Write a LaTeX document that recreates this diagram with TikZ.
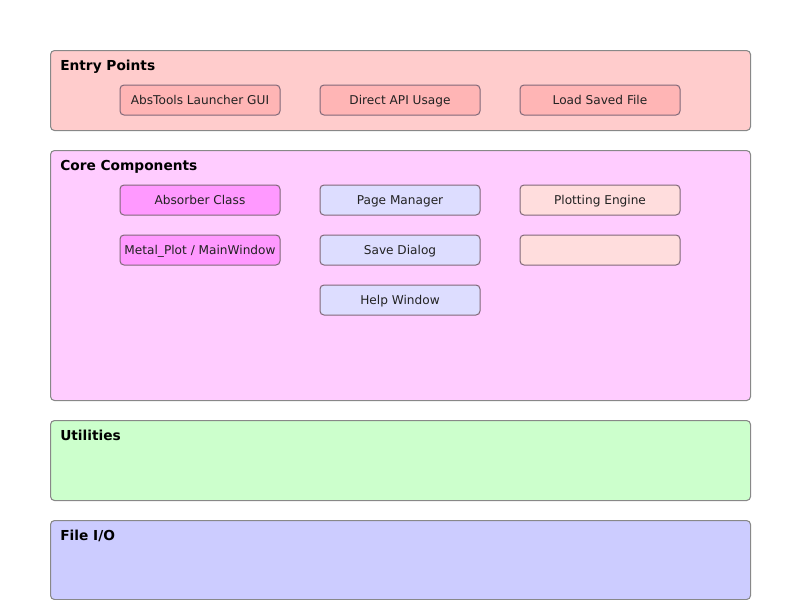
\documentclass[tikz,border=0pt]{standalone}
\usepackage{fontspec}
\setmainfont{DejaVu Sans}
\usetikzlibrary{positioning}
\definecolor{entryBg}{HTML}{FFCCCC}
\definecolor{entryNode}{HTML}{FFB5B5}
\definecolor{coreBg}{HTML}{FFCCFF}
\definecolor{absNode}{HTML}{FF99FF}
\definecolor{pageNode}{HTML}{DDDDFF}
\definecolor{plotNode}{HTML}{FFDDDD}
\definecolor{utilBg}{HTML}{CCFFCC}
\definecolor{fileBg}{HTML}{CCCCFF}
\definecolor{nodeLine}{HTML}{806878}
\definecolor{groupLine}{HTML}{888888}
\definecolor{nodeText}{HTML}{222222}

\begin{document}
\begin{tikzpicture}[
    x=0.75pt, y=-0.75pt,
    every node/.style={font=\fontsize{9.1pt}{11pt}\selectfont},
    group_box/.style={rectangle, rounded corners=3pt, draw=groupLine, line width=0.8pt, anchor=north west, minimum width=525pt, inner sep=0pt},
    group_title/.style={anchor=base west, inner sep=0pt, font=\bfseries\fontsize{10.3pt}{12pt}\selectfont},
    comp/.style={rectangle, rounded corners=3pt, draw=nodeLine, line width=0.75pt, minimum width=120pt, minimum height=22.5pt, inner sep=0pt, text height=8.3pt, text depth=1.7pt, text=nodeText}
]
\useasboundingbox (0,0) rectangle (800,600);

% groups
\node[group_box, fill=entryBg, minimum height=60pt] (entry) at (50,50) {};
\node[group_title] (entry_t) at (60,70) {Entry Points};
\node[group_box, fill=coreBg, minimum height=187.5pt] (core) at (50,150) {};
\node[group_title] (core_t) at (60,170) {Core Components};
\node[group_box, fill=utilBg, minimum height=60pt] (util) at (50,420) {};
\node[group_title] (util_t) at (60,440) {Utilities};
\node[group_box, fill=fileBg, minimum height=59.25pt] (fileio) at (50,520) {};
\node[group_title] (fileio_t) at (60,540) {File I/O};

% entry points
\node[comp, fill=entryNode] (launcher) at (200,100) {AbsTools Launcher GUI};
\node[comp, fill=entryNode] (api) at (400,100) {Direct API Usage};
\node[comp, fill=entryNode] (loadfile) at (600,100) {Load Saved File};

% core components
\node[comp, fill=absNode] (absorber) at (200,200) {Absorber Class};
\node[comp, fill=absNode] (metalplot) at (200,250) {Metal\_Plot / MainWindow};
\node[comp, fill=pageNode] (pagemgr) at (400,200) {Page Manager};
\node[comp, fill=pageNode] (savedlg) at (400,250) {Save Dialog};
\node[comp, fill=pageNode] (helpwin) at (400,300) {Help Window};
\node[comp, fill=plotNode] (plotter) at (600,200) {Plotting Engine};
\node[comp, fill=plotNode] (plotextra) at (600,250) {};

\end{tikzpicture}
\end{document}
